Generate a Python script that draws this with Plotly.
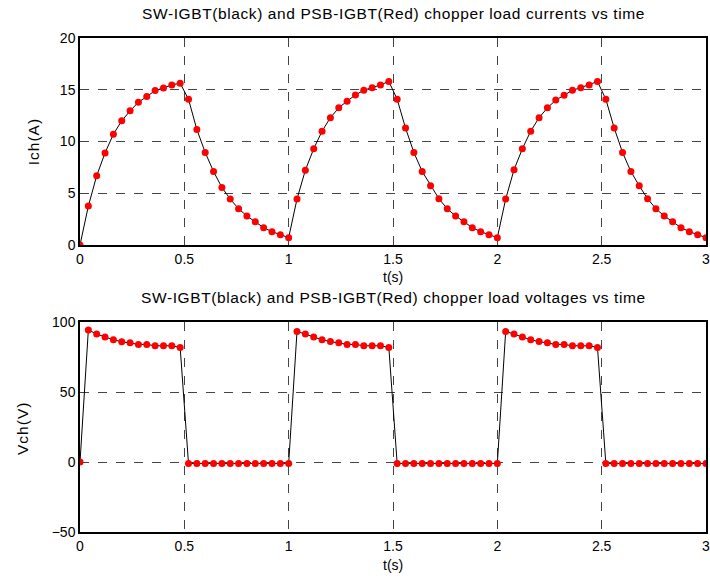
import numpy as np
import plotly.graph_objects as go
from plotly.subplots import make_subplots

t = [round(0.04 * k, 2) for k in range(76)]

current_A = [
    0.0, 3.76, 6.69, 8.9, 10.7, 12.0, 12.96, 13.8, 14.34, 14.92, 15.18, 15.47, 15.63,
    14.08, 11.16, 8.94, 7.1, 5.56, 4.44, 3.5, 2.8, 2.25, 1.67, 1.29, 1.0, 0.71,
    4.44, 7.23, 9.3, 11.0, 12.3, 13.25, 13.9, 14.5, 14.95, 15.2, 15.47, 15.8,
    14.08, 11.3, 8.94, 7.1, 5.72, 4.47, 3.5, 2.8, 2.25, 1.67, 1.29, 1.0, 0.71,
    4.44, 7.27, 9.3, 11.0, 12.3, 13.25, 14.0, 14.47, 14.95, 15.2, 15.47, 15.8,
    14.08, 11.3, 8.94, 7.1, 5.72, 4.47, 3.5, 2.8, 2.25, 1.67, 1.29, 1.0, 0.71,
]

voltage_V = [
    0.0, 94.3, 91.4, 89.2, 87.3, 85.9, 85.2, 84.0, 84.0, 83.0, 83.0, 83.0, 81.8,
    -1.0, -1.0, -1.0, -1.0, -1.0, -1.0, -1.0, -1.0, -1.0, -1.0, -1.0, -1.0, -1.0,
    93.3, 91.4, 89.2, 87.3, 86.0, 85.2, 84.0, 84.0, 83.0, 83.0, 83.0, 81.8,
    -1.0, -1.0, -1.0, -1.0, -1.0, -1.0, -1.0, -1.0, -1.0, -1.0, -1.0, -1.0, -1.0,
    93.3, 91.4, 89.2, 87.3, 86.0, 85.2, 84.0, 84.0, 83.0, 83.0, 83.0, 81.8,
    -1.0, -1.0, -1.0, -1.0, -1.0, -1.0, -1.0, -1.0, -1.0, -1.0, -1.0, -1.0, -1.0,
]

x_ticks = [0, 0.5, 1, 1.5, 2, 2.5, 3]
x_tick_labels = ["0", "0.5", "1", "1.5", "2", "2.5", "3"]
i_ticks = [0, 5, 10, 15, 20]
v_ticks = [-50, 0, 50, 100]

title_top = "SW-IGBT(black) and PSB-IGBT(Red) chopper load currents vs time"
title_bot = "SW-IGBT(black) and PSB-IGBT(Red) chopper load voltages vs time"

FONT = "Liberation Sans, Arial, sans-serif"


def spaced(s, px):
    return f'<span style="letter-spacing:{px}px">{s}</span>'


fig = make_subplots(rows=2, cols=1, vertical_spacing=0.0)

for row, y in ((1, current_A), (2, voltage_V)):
    fig.add_trace(go.Scatter(x=t, y=y, mode="lines", line=dict(color="black", width=1),
                             showlegend=False, hoverinfo="skip"), row=row, col=1)
    fig.add_trace(go.Scatter(x=t, y=y, mode="markers",
                             marker=dict(color="#ff0000", size=7, line=dict(width=0)),
                             showlegend=False), row=row, col=1)

axis_common = dict(showline=True, linecolor="black", linewidth=1.5, mirror=True,
                   showgrid=True, gridcolor="#444444", griddash="dash", gridwidth=1,
                   zeroline=False, ticks="", automargin=False, ticklabeloverflow="allow",
                   tickfont=dict(family=FONT, size=14, color="black"))

fig.update_xaxes(range=[0, 3], tickvals=x_ticks, ticktext=x_tick_labels, **axis_common)
fig.update_yaxes(range=[0, 20], tickvals=i_ticks, row=1, col=1, **axis_common)
fig.update_yaxes(range=[-50, 100], tickvals=v_ticks, row=2, col=1, **axis_common)

fig.update_layout(
    width=710, height=583,
    margin=dict(l=80, r=4, t=38, b=51),
    paper_bgcolor="white", plot_bgcolor="white",
    font=dict(family=FONT, size=14, color="black"),
    xaxis=dict(domain=[0, 1]), yaxis=dict(domain=[0.581, 1.0]),
    xaxis2=dict(domain=[0, 1]), yaxis2=dict(domain=[0.0, 0.4251]),
)

ann = dict(xref="paper", yref="paper", showarrow=False)
fig.add_annotation(text=spaced(title_top, 0.6), x=0.5, y=1.0506, yanchor="middle",
                   font=dict(family=FONT, size=15.5, color="black"), **ann)
fig.add_annotation(text=spaced(title_bot, 0.6), x=0.5, y=0.4757, yanchor="middle",
                   font=dict(family=FONT, size=15.5, color="black"), **ann)
fig.add_annotation(text="t(s)", x=0.5, y=0.516, yanchor="middle",
                   font=dict(family=FONT, size=14, color="black"), **ann)
fig.add_annotation(text="t(s)", x=0.5, y=-0.0668, yanchor="middle",
                   font=dict(family=FONT, size=14, color="black"), **ann)
fig.add_annotation(text=spaced("Ich(A)", 1), x=-0.075, y=0.789, textangle=-90,
                   xanchor="center", yanchor="middle",
                   font=dict(family=FONT, size=15.5, color="black"), **ann)
fig.add_annotation(text=spaced("Vch(V)", 1), x=-0.0927, y=0.2105, textangle=-90,
                   xanchor="center", yanchor="middle",
                   font=dict(family=FONT, size=15.5, color="black"), **ann)

# remove the default page margin / scrollbars so the 710x583 figure fills the window
page_fix = ("document.documentElement.style.overflow='hidden';"
            "document.body.style.margin='0';document.body.style.overflow='hidden';")

fig.write_html("out.html", post_script=page_fix, config={"displayModeBar": False})
